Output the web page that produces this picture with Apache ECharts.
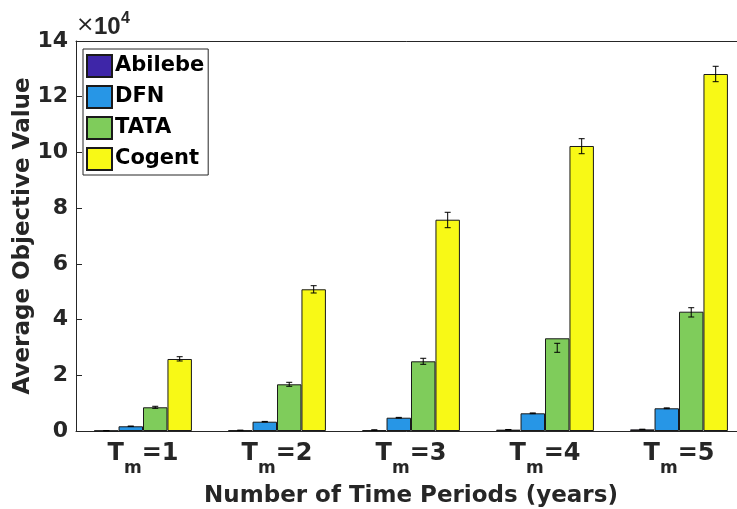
<!DOCTYPE html>
<html>
<head>
<meta charset="utf-8">
<script src="https://cdn.jsdelivr.net/npm/echarts@6/dist/echarts.min.js"></script>
<style>
html,body{margin:0;padding:0;background:#fff;}
#chart{width:737px;height:509px;}
</style>
</head>
<body>
<div id="chart"></div>
<script>
// ---- data ----
var categories = ['1', '2', '3', '4', '5'];
var seriesNames = ['Abilebe', 'DFN', 'TATA', 'Cogent'];
var abilebe = [120, 250, 350, 480, 580];
var dfn = [1690, 3340, 4770, 6350, 8150];
var tata = [8510, 16760, 25020, 33280, 42830];
var cogent = [25850, 50870, 75850, 102310, 128150];
// error bar bounds [low, high]
var abilebeErr = [[80, 160], [200, 300], [290, 410], [420, 540], [510, 650]];
var dfnErr = [[1600, 1780], [3240, 3440], [4650, 4890], [6220, 6480], [8000, 8300]];
var tataErr = [[8150, 8870], [16050, 17480], [23940, 26100], [28250, 31480], [40920, 44260]];
var cogentErr = [[25130, 26670], [49540, 52160], [72980, 78510], [99540, 104930], [125390, 130920]];
var yTicks = [0, 2, 4, 6, 8, 10, 12, 14];
var colors = ['#3e26a8', '#2796e6', '#7fcc5b', '#f8f916'];

var values = [abilebe, dfn, tata, cogent];
var errs = [abilebeErr, dfnErr, tataErr, cogentErr];
var GAP = 0.27;
var FONT = 'DejaVu Sans';
var AR = 'Liberation Sans';
var TXT = '#262626';

var chart = echarts.init(document.getElementById('chart'));

var series = [];
values.forEach(function (v, si) {
  series.push({
    name: seriesNames[si],
    type: 'bar',
    data: v,
    barGap: '0%',
    barCategoryGap: (GAP * 100) + '%',
    itemStyle: { color: colors[si], borderColor: '#1a1a1a', borderWidth: 1 },
    emphasis: { disabled: true },
    z: 2
  });
});
errs.forEach(function (e, si) {
  series.push({
    type: 'custom',
    z: 5,
    silent: true,
    data: e.map(function (d, i) { return [i, d[0], d[1]]; }),
    renderItem: function (params, api) {
      var i = api.value(0);
      var lo = api.coord([i, api.value(1)]);
      var hi = api.coord([i, api.value(2)]);
      var band = api.size([1, 0])[0];
      var bw = band * (1 - GAP) / 4;
      var x = lo[0] + (si - 1.5) * bw;
      var cap = 3;
      var st = { stroke: '#000', lineWidth: 1 };
      return {
        type: 'group',
        children: [
          { type: 'line', shape: { x1: x, y1: lo[1], x2: x, y2: hi[1] }, style: st },
          { type: 'line', shape: { x1: x - cap, y1: lo[1], x2: x + cap, y2: lo[1] }, style: st },
          { type: 'line', shape: { x1: x - cap, y1: hi[1], x2: x + cap, y2: hi[1] }, style: st }
        ]
      };
    }
  });
});

var option = {
  backgroundColor: '#fff',
  animation: false,
  textStyle: { fontFamily: FONT },
  grid: { left: 76, top: 41, width: 670, bottom: 78, containLabel: false, outerBoundsMode: 'none' },
  legend: {
    data: seriesNames,
    orient: 'vertical',
    left: 83,
    top: 49,
    padding: [5, 4, 4, 3],
    itemWidth: 25,
    itemHeight: 22,
    itemGap: 7,
    icon: 'rect',
    borderColor: '#262626',
    borderWidth: 1,
    backgroundColor: '#fff',
    selectedMode: false,
    textStyle: { fontFamily: FONT, fontWeight: 'bold', fontSize: 21, color: '#000', padding: [0, 0, 0, -2] }
  },
  xAxis: [{
    type: 'category',
    data: categories,
    position: 'bottom',
    axisLine: { lineStyle: { color: TXT, width: 1 } },
    axisTick: { inside: true, alignWithLabel: true, length: 6, lineStyle: { color: TXT } },
    axisLabel: {
      margin: 11,
      interval: 0,
      hideOverlap: false,
      formatter: function (v) { return '{t|T}{s|m}{t|=' + v + '}'; },
      rich: {
        t: { fontFamily: FONT, fontWeight: 'bold', fontSize: 24, color: TXT, lineHeight: 24, verticalAlign: 'top' },
        s: { fontFamily: FONT, fontWeight: 'bold', fontSize: 17, color: TXT, lineHeight: 53 }
      }
    },
    name: 'Number of Time Periods (years)',
    nameLocation: 'middle',
    nameGap: 54,
    nameMoveOverlap: false,
    nameTextStyle: { fontFamily: FONT, fontWeight: 'bold', fontSize: 23, color: TXT }
  }, {
    type: 'category',
    data: categories,
    position: 'top',
    axisLine: { lineStyle: { color: TXT, width: 1 } },
    axisTick: { inside: true, alignWithLabel: true, length: 6, lineStyle: { color: TXT } },
    axisLabel: { show: false }
  }],
  yAxis: {
    type: 'value',
    min: 0,
    max: 140000,
    interval: 20000,
    axisLine: { show: true, lineStyle: { color: TXT, width: 1 } },
    axisTick: { show: true, inside: true, length: 6, lineStyle: { color: TXT } },
    splitLine: { show: false },
    axisLabel: {
      margin: 8,
      fontFamily: FONT, fontWeight: 'bold', fontSize: 22, color: TXT,
      formatter: function (v) { var t = v / 10000; return yTicks.indexOf(t) >= 0 ? String(t) : ''; }
    },
    name: 'Average Objective Value',
    nameLocation: 'middle',
    nameGap: 41,
    nameMoveOverlap: false,
    nameTextStyle: { fontFamily: FONT, fontWeight: 'bold', fontSize: 23, color: TXT }
  },
  graphic: [{
    type: 'text', left: 76, top: 14,
    style: { text: '×', fontFamily: FONT, fontSize: 22, fontWeight: 'normal', fill: TXT }
  }, {
    type: 'text', left: 94, top: 15,
    style: { text: '10', fontFamily: AR, fontSize: 24, fontWeight: 'bold', fill: TXT }
  }, {
    type: 'text', left: 121, top: 11,
    style: { text: '4', fontFamily: AR, fontSize: 16, fontWeight: 'bold', fill: TXT }
  }],
  series: series
};
chart.setOption(option);
</script>
</body>
</html>
